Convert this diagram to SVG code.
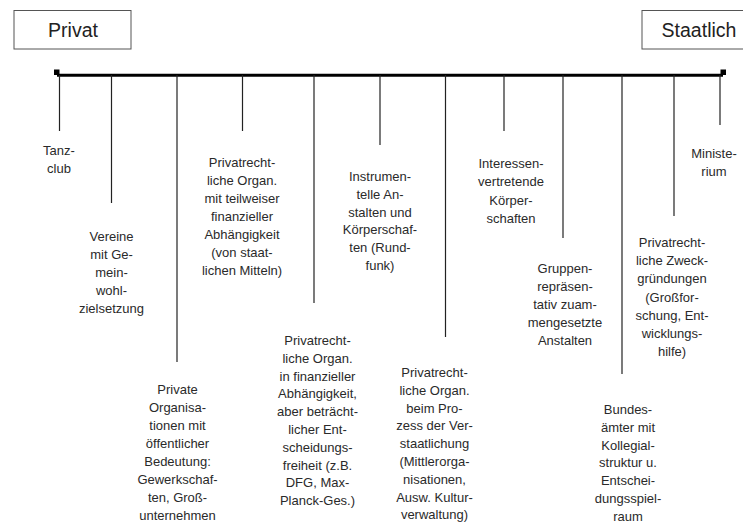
<svg xmlns="http://www.w3.org/2000/svg" width="743" height="526" viewBox="0 0 743 526">
<style>
.box{fill:#fff;stroke:#555;stroke-width:1}
.hd{font-family:"Liberation Sans",Arial,sans-serif;font-size:19.5px;fill:#222;text-anchor:middle}
.lb{font-family:"Liberation Sans",Arial,sans-serif;font-size:13px;fill:#2a2a2a;text-anchor:middle}
.tick{stroke:#222;stroke-width:1.2;fill:none}
.axis{stroke:#000;stroke-width:3;fill:none}
</style>
<rect width="743" height="526" fill="#fff"/>
<g id="privat">
<rect class="box" x="14" y="10.5" width="117" height="38.5"/>
<text class="hd" x="73" y="37">Privat</text>
</g>
<g id="staatlich">
<rect class="box" x="642" y="10.5" width="110" height="38.5"/>
<text class="hd" x="699" y="37">Staatlich</text>
</g>
<g id="connectors">
<line class="axis" x1="57" y1="75.3" x2="723" y2="75.3"/>
<rect x="54" y="69.5" width="5.5" height="5.5" fill="#000"/>
<rect x="720.5" y="69.5" width="5.5" height="5.5" fill="#000"/>
<line class="tick" x1="59.5" y1="75" x2="59.5" y2="131"/>
<line class="tick" x1="111.5" y1="75" x2="111.5" y2="203"/>
<line class="tick" x1="177" y1="75" x2="177" y2="362"/>
<line class="tick" x1="242.5" y1="75" x2="242.5" y2="131"/>
<line class="tick" x1="314" y1="75" x2="314" y2="303"/>
<line class="tick" x1="380" y1="75" x2="380" y2="145"/>
<line class="tick" x1="445.5" y1="75" x2="445.5" y2="337"/>
<line class="tick" x1="504" y1="75" x2="504" y2="131"/>
<line class="tick" x1="563" y1="75" x2="563" y2="238"/>
<line class="tick" x1="622" y1="75" x2="622" y2="374"/>
<line class="tick" x1="674" y1="75" x2="674" y2="216"/>
<line class="tick" x1="720" y1="75" x2="720" y2="125"/>
</g>
<g id="n1"><text class="lb" x="59" y="155"><tspan x="59">Tanz-</tspan><tspan x="59" dy="17.8">club</tspan></text></g>
<g id="n2"><text class="lb" x="111.5" y="241"><tspan x="111.5">Vereine</tspan><tspan x="111.5" dy="18">mit Ge-</tspan><tspan x="111.5" dy="18">mein-</tspan><tspan x="111.5" dy="18">wohl-</tspan><tspan x="111.5" dy="18">zielsetzung</tspan></text></g>
<g id="n3"><text class="lb" x="177.5" y="394"><tspan x="177.5">Private</tspan><tspan x="177.5" dy="18">Organisa-</tspan><tspan x="177.5" dy="18">tionen mit</tspan><tspan x="177.5" dy="18">öffentlicher</tspan><tspan x="177.5" dy="18">Bedeutung:</tspan><tspan x="177.5" dy="18">Gewerkschaf-</tspan><tspan x="177.5" dy="18">ten, Groß-</tspan><tspan x="177.5" dy="18">unternehmen</tspan></text></g>
<g id="n4"><text class="lb" x="242" y="167"><tspan x="242">Privatrecht-</tspan><tspan x="242" dy="18">liche Organ.</tspan><tspan x="242" dy="18">mit teilweiser</tspan><tspan x="242" dy="18">finanzieller</tspan><tspan x="242" dy="18">Abhängigkeit</tspan><tspan x="242" dy="18">(von staat-</tspan><tspan x="242" dy="18">lichen Mitteln)</tspan></text></g>
<g id="n5"><text class="lb" x="380" y="181"><tspan x="380">Instrumen-</tspan><tspan x="380" dy="17.8">telle An-</tspan><tspan x="380" dy="17.8">stalten und</tspan><tspan x="380" dy="17.8">Körperschaf-</tspan><tspan x="380" dy="17.8">ten (Rund-</tspan><tspan x="380" dy="17.8">funk)</tspan></text></g>
<g id="n6"><text class="lb" x="511" y="168"><tspan x="511">Interessen-</tspan><tspan x="511" dy="18.3">vertretende</tspan><tspan x="511" dy="18.3">Körper-</tspan><tspan x="511" dy="18.3">schaften</tspan></text></g>
<g id="n7"><text class="lb" x="565" y="273"><tspan x="565">Gruppen-</tspan><tspan x="565" dy="18">repräsen-</tspan><tspan x="565" dy="18">tativ zuam-</tspan><tspan x="565" dy="18">mengesetzte</tspan><tspan x="565" dy="18">Anstalten</tspan></text></g>
<g id="n8"><text class="lb" x="672" y="247"><tspan x="672">Privatrecht-</tspan><tspan x="672" dy="18.2">liche Zweck-</tspan><tspan x="672" dy="18.2">gründungen</tspan><tspan x="672" dy="18.2">(Großfor-</tspan><tspan x="672" dy="18.2">schung, Ent-</tspan><tspan x="672" dy="18.2">wicklungs-</tspan><tspan x="672" dy="18.2">hilfe)</tspan></text></g>
<g id="n9"><text class="lb" x="714" y="158"><tspan x="714">Ministe-</tspan><tspan x="714" dy="17.8">rium</tspan></text></g>
<g id="n10"><text class="lb" x="628" y="414"><tspan x="628">Bundes-</tspan><tspan x="628" dy="17.8">ämter mit</tspan><tspan x="628" dy="17.8">Kollegial-</tspan><tspan x="628" dy="17.8">struktur u.</tspan><tspan x="628" dy="17.8">Entschei-</tspan><tspan x="628" dy="17.8">dungsspiel-</tspan><tspan x="628" dy="17.8">raum</tspan></text></g>
<g id="n11"><text class="lb" x="434.5" y="377"><tspan x="434.5">Privatrecht-</tspan><tspan x="434.5" dy="17.8">liche Organ.</tspan><tspan x="434.5" dy="17.8">beim Pro-</tspan><tspan x="434.5" dy="17.8">zess der Ver-</tspan><tspan x="434.5" dy="17.8">staatlichung</tspan><tspan x="434.5" dy="17.8">(Mittlerorga-</tspan><tspan x="434.5" dy="17.8">nisationen,</tspan><tspan x="434.5" dy="17.8">Ausw. Kultur-</tspan><tspan x="434.5" dy="17.8">verwaltung)</tspan></text></g>
<g id="n12"><text class="lb" x="317.5" y="345"><tspan x="317.5">Privatrecht-</tspan><tspan x="317.5" dy="17.8">liche Organ.</tspan><tspan x="317.5" dy="17.8">in finanzieller</tspan><tspan x="317.5" dy="17.8">Abhängigkeit,</tspan><tspan x="317.5" dy="17.8">aber beträcht-</tspan><tspan x="317.5" dy="17.8">licher Ent-</tspan><tspan x="317.5" dy="17.8">scheidungs-</tspan><tspan x="317.5" dy="17.8">freiheit (z.B.</tspan><tspan x="317.5" dy="17.8">DFG, Max-</tspan><tspan x="317.5" dy="17.8">Planck-Ges.)</tspan></text></g>
</svg>
